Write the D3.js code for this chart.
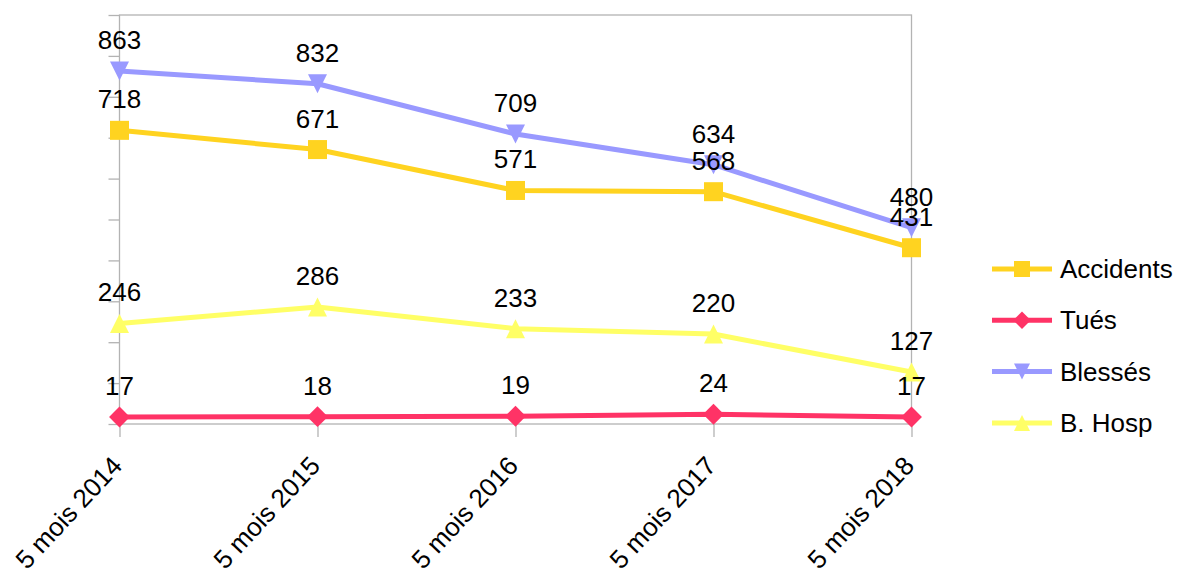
<!DOCTYPE html>
<html lang="fr">
<head>
<meta charset="UTF-8">
<title>Accidents 5 mois</title>
<script src="https://d3js.org/d3.v7.min.js"></script>
<style>
  body { margin: 0; background: #fff; font-family: "Liberation Sans", Arial, sans-serif; }
  svg { display: block; }
  .frame { fill: none; stroke: #b3b3b3; stroke-width: 1.3; }
  .tick line { stroke: #b3b3b3; stroke-width: 1.3; }
  .serie { fill: none; stroke-width: 5; stroke-linejoin: round; }
  .lbl { font-size: 26px; fill: #000; text-anchor: middle; }
  .xlab { font-size: 26px; fill: #000; text-anchor: end; }
  .leg text { font-size: 26px; fill: #000; }
</style>
</head>
<body>
<svg width="1179" height="581"></svg>
<script>
// données
const categories = ["5 mois 2014", "5 mois 2015", "5 mois 2016", "5 mois 2017", "5 mois 2018"];
const accidents = [718, 671, 571, 568, 431];
const tues = [17, 18, 19, 24, 17];
const blesses = [863, 832, 709, 634, 480];
const bHosp = [246, 286, 233, 220, 127];

const series = [
  { name: "Accidents", values: accidents, color: "#ffd320", symbol: "square" },
  { name: "Tués", values: tues, color: "#ff3366", symbol: "diamond" },
  { name: "Blessés", values: blesses, color: "#9999ff", symbol: "down" },
  { name: "B. Hosp", values: bHosp, color: "#ffff66", symbol: "up" }
];

const svg = d3.select("svg");
const mLeft = 119.5, mRight = 911.5, mTop = 15, mBottom = 424;

const x = d3.scalePoint().domain(categories).range([mLeft, mRight]);
const y = d3.scaleLinear().domain([0, 1000]).range([mBottom, mTop]);

// cadre + graduations
svg.append("rect").attr("class", "frame")
  .attr("x", mLeft).attr("y", mTop).attr("width", mRight - mLeft).attr("height", mBottom - mTop);

svg.append("g").attr("transform", `translate(${mLeft},0)`)
  .call(d3.axisLeft(y).ticks(10).tickSize(11).tickFormat(""))
  .call(g => g.select(".domain").remove());

svg.append("g").attr("transform", `translate(0,${mBottom})`)
  .call(d3.axisBottom(x).tickSize(13).tickFormat(""))
  .call(g => g.select(".domain").remove());

// étiquettes x
svg.append("g").selectAll("text").data(categories).enter()
  .append("text").attr("class", "xlab")
  .attr("transform", d => `translate(${x(d) + 4},${mBottom + 43}) rotate(-47)`)
  .text(d => d);

function marker(sel, sym, s) {
  if (sym === "square") {
    sel.append("rect").attr("x", -s / 2).attr("y", -s / 2).attr("width", s).attr("height", s);
  } else if (sym === "diamond") {
    const h = s * 0.55;
    sel.append("path").attr("d", `M0,${-h}L${h},0L0,${h}L${-h},0Z`);
  } else if (sym === "down") {
    const h = s / 2;
    sel.append("path").attr("d", `M${-h},${-h}L${h},${-h}L0,${h}Z`);
  } else {
    const h = s / 2;
    sel.append("path").attr("d", `M${-h},${h}L${h},${h}L0,${-h}Z`);
  }
}

const line = d3.line().x((d, i) => x(categories[i])).y(d => y(d));

// séries
series.forEach(s => {
  svg.append("path").attr("class", "serie").attr("stroke", s.color).attr("d", line(s.values));
  s.values.forEach((v, i) => {
    const g = svg.append("g").attr("fill", s.color)
      .attr("transform", `translate(${x(categories[i])},${y(v)})`);
    marker(g, s.symbol, 19);
  });
});

// étiquettes de valeurs
series.forEach(s => {
  svg.append("g").selectAll("text").data(s.values).enter()
    .append("text").attr("class", "lbl")
    .attr("x", (d, i) => x(categories[i]))
    .attr("y", d => y(d) - 22)
    .text(d => d);
});

// légende
const leg = svg.append("g").attr("class", "leg");
series.forEach((s, i) => {
  const ly = 269 + i * 51.3;
  const g = leg.append("g").attr("transform", `translate(992,${ly})`);
  g.append("line").attr("x1", 0).attr("x2", 60).attr("stroke", s.color).attr("stroke-width", 5);
  const m = g.append("g").attr("fill", s.color).attr("transform", "translate(30,0)");
  marker(m, s.symbol, 16);
  g.append("text").attr("x", 68).attr("y", 9).text(s.name);
});
</script>
</body>
</html>
